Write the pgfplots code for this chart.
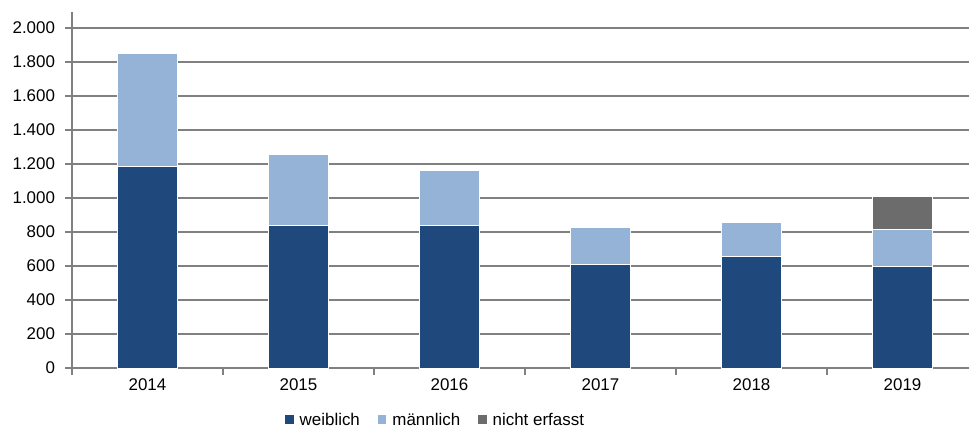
\documentclass[border=0pt]{standalone}
\usepackage{fontspec}
\setmainfont{Liberation Sans}
\usepackage{pgfplots}
\pgfplotsset{compat=1.18}
\definecolor{wblue}{RGB}{31,73,125}
\definecolor{mblue}{RGB}{149,179,215}
\definecolor{ngray}{RGB}{108,108,108}
\definecolor{gridgray}{RGB}{128,128,128}
\begin{document}
\begin{tikzpicture}
\useasboundingbox (-72bp,-69bp) rectangle (897bp,368bp);
\begin{axis}[
  at={(0,0)}, anchor=south west,
  scale only axis, width=906bp, height=356bp,
  ybar stacked, bar width=60bp,
  xmin=-0.5, xmax=5.5,
  ymin=0, ymax=2094,
  ytick={0,200,...,2000},
  scaled y ticks=false,
  xtick={-0.5,0.5,1.5,2.5,3.5,4.5,5.5},
  x tick label as interval,
  xticklabels={2014,2015,2016,2017,2018,2019},
  ymajorgrids, grid style={gridgray, line width=1.2pt},
  axis x line*=bottom, axis y line*=left,
  axis line style={gridgray, line width=1.2pt},
  tick style={gridgray, line width=1.2pt},
  tick align=outside, major tick length=6.5bp,
  /pgf/number format/assume math mode=true,
  /pgf/number format/use comma,
  /pgf/number format/1000 sep={.},
  ticklabel style={font=\fontsize{17}{19}\selectfont, text=black},
  yticklabel style={xshift=-7bp},
  xticklabel style={yshift=-1bp},
  legend columns=3,
  legend style={at={(0.2318,0)}, anchor=north west, yshift=-41bp, draw=none, fill=none,
    font=\fontsize{17}{19}\selectfont,
    /tikz/every odd column/.append style={column sep=4bp},
    /tikz/every even column/.append style={column sep=16bp}},
  legend cell align=left,
]
\addplot[fill=wblue, draw=white, line width=1pt,
  legend image code/.code={\fill[wblue] (0bp,-3bp) rectangle (7.5bp,4.5bp);}]
  coordinates {(0,1186) (1,841) (2,838) (3,610) (4,655) (5,598)};
\addplot[fill=mblue, draw=white, line width=1pt,
  legend image code/.code={\fill[mblue] (0bp,-3bp) rectangle (7.5bp,4.5bp);}]
  coordinates {(0,663) (1,414) (2,325) (3,218) (4,198) (5,218)};
\addplot[fill=ngray, draw=white, line width=1pt,
  legend image code/.code={\fill[ngray] (0bp,-3bp) rectangle (7.5bp,4.5bp);}]
  coordinates {(0,0) (1,0) (2,0) (3,0) (4,0) (5,194)};
\legend{weiblich, männlich, nicht erfasst}
\end{axis}
\end{tikzpicture}
\end{document}
